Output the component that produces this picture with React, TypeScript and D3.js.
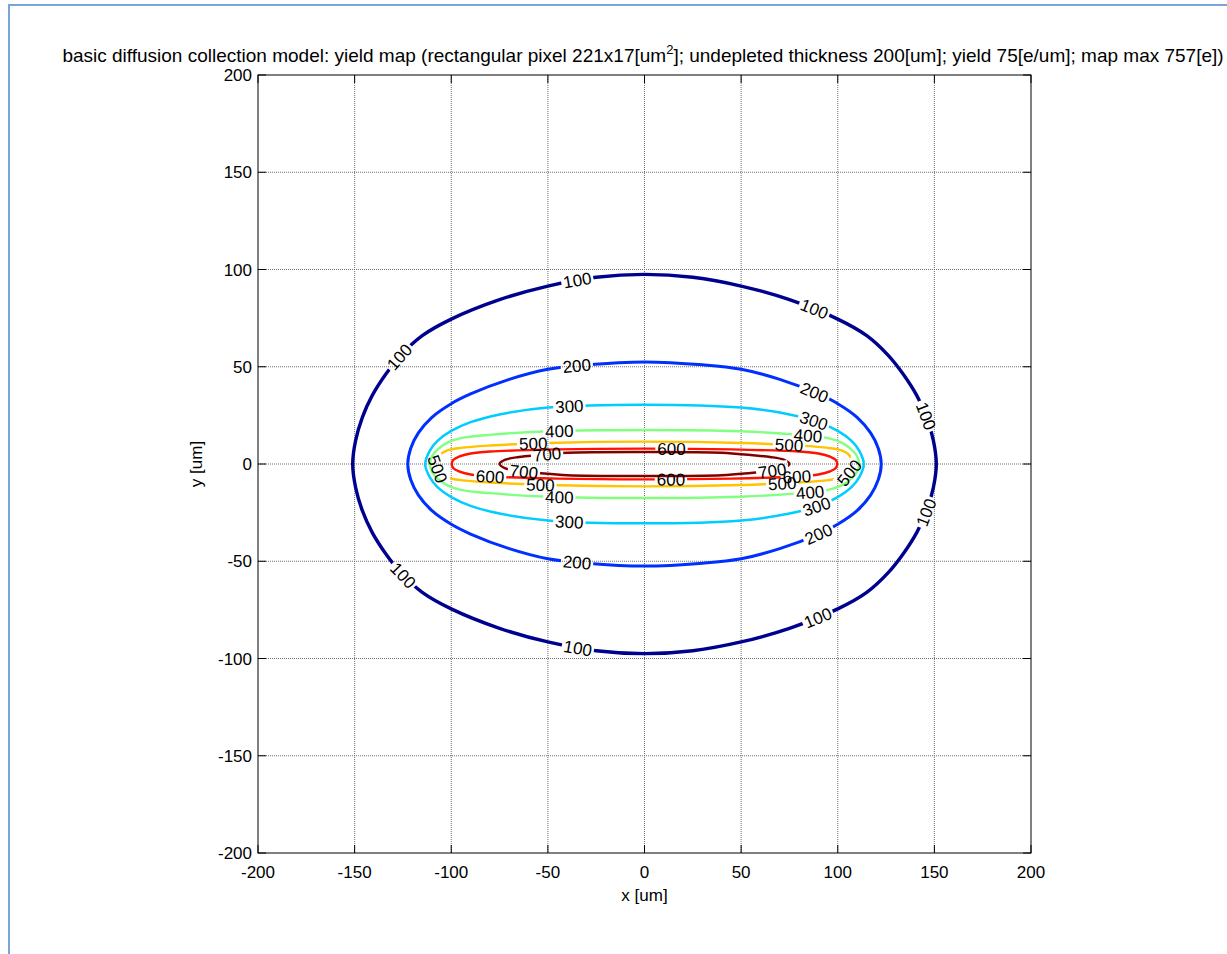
import * as d3 from "d3";
import { useEffect, useRef } from "react";

const W = 1227;
const H = 954;

const titleMain = "basic diffusion collection model: yield map (rectangular pixel 221x17[um";
const titleSup = "2";
const titleEnd = "]; undepleted thickness 200[um]; yield 75[e/um]; map max 757[e])";

const xTicks = [-200, -150, -100, -50, 0, 50, 100, 150, 200];
const yTicks = [-200, -150, -100, -50, 0, 50, 100, 150, 200];

const levels = [100, 200, 300, 400, 500, 600, 700];
const levelColors = ["#00008f", "#0030ff", "#00ccff", "#80ff80", "#ffc400", "#ff1200", "#800000"];
const levelWidths = [3.4, 3, 2.5, 2.4, 2.4, 2.4, 2.4];

// traced contours, upper-right quadrant: from the top (x=0) to the right end (y=0), in um
const c100 = [[0, 97.5], [25, 96], [50, 91.5], [75, 84.5], [100, 74.5], [115, 66], [126, 56], [134, 46], [141, 35], [146, 24], [149.5, 12], [151, 0]];
const c200 = [[0, 52.5], [30, 51], [50, 48.7], [70, 43.5], [90, 36], [100, 31], [110, 24], [117, 16], [121, 8], [122.5, 0]];
const c300 = [[0, 30.5], [50, 29], [75, 25.5], [90, 21.5], [100, 17], [107, 12], [111, 7], [113.5, 0]];
const c400 = [[0, 17.5], [50, 16.8], [80, 15], [95, 13.3], [102, 11], [107, 7.5], [110, 4], [111, 0]];
const c500 = [[0, 11.5], [50, 10.8], [80, 9.5], [95, 8.3], [102, 7], [106, 4.5], [107.5, 0]];
const c600 = [[0, 7.9], [45, 7.5], [80, 6.4], [90, 5.4], [96, 3.8], [99, 2], [99.7, 0]];
const c700 = [[0, 6.2], [40, 5.8], [55, 4.6], [65, 3.6], [72, 2.2], [75, 0]];
const contourQuads = [c100, c200, c300, c400, c500, c600, c700];

// label positions (um)
const lab100 = [[-35, 95.6], [87, 78], [-126, 54.5], [144, 24], [145.5, -25], [-125, -57], [-34.6, -95.6], [89.4, -78.7]];
const lab200 = [[-35, 49.4], [87, 34.4], [-35, -51], [89.4, -34]];
const lab300 = [[-38.8, 29.5], [87, 20], [-38.8, -30.4], [88, -18.5]];
const lab400 = [[-43.9, 16.6], [84.5, 13.9], [-43.9, -17.5], [85.5, -13.4]];
const lab500 = [[-57.6, 9.8], [75, 9.8], [-108, -3], [107, -5], [-54, -11.7], [71.3, -11.7]];
const lab600 = [[13.8, 7.7], [13.8, -8.5], [-80, -7.2], [79, -7.2]];
const lab700 = [[-50.7, 5.6], [-62.6, -4.6], [66.4, -4.6]];
const contourLabels = [lab100, lab200, lab300, lab400, lab500, lab600, lab700];

const font = "'Liberation Sans', Arial, sans-serif";
const fs = 17;

function closeLoop(q: number[][]) {
  return [
    ...q,
    ...q.slice(0, -1).reverse().map(([a, b]) => [a, -b]),
    ...q.slice(1).map(([a, b]) => [-a, -b]),
    ...q.slice(1, -1).reverse().map(([a, b]) => [-a, b]),
  ];
}

export default function App() {
  const ref = useRef<SVGSVGElement>(null);

  useEffect(() => {
    const svg = d3.select(ref.current);
    svg.selectAll("*").remove();

    const m = { left: 258, top: 75, right: 1031, bottom: 853 };
    const x = d3.scaleLinear().domain([-200, 200]).range([m.left, m.right]);
    const y = d3.scaleLinear().domain([-200, 200]).range([m.bottom, m.top]);

    svg.append("rect").attr("width", W).attr("height", H).attr("fill", "#fff");
    // figure frame
    svg.append("rect")
      .attr("x", 9).attr("y", 5).attr("width", 1400).attr("height", 1400)
      .attr("fill", "none").attr("stroke", "#7aa3d6").attr("stroke-width", 2);

    const defs = svg.append("defs");

    // grid
    const grid = svg.append("g")
      .attr("stroke", "#707070").attr("stroke-width", 1).attr("stroke-dasharray", "1,1");
    xTicks.slice(1, -1).forEach(t => {
      grid.append("line").attr("x1", x(t)).attr("x2", x(t)).attr("y1", m.top).attr("y2", m.bottom);
    });
    yTicks.slice(1, -1).forEach(t => {
      grid.append("line").attr("y1", y(t)).attr("y2", y(t)).attr("x1", m.left).attr("x2", m.right);
    });

    const line = d3.line<number[]>()
      .x(d => x(d[0]))
      .y(d => y(d[1]))
      .curve(d3.curveCatmullRomClosed.alpha(0.5));

    const labelG = svg.append("g");

    levels.forEach((lv, i) => {
      const pts = closeLoop(contourQuads[i]);
      const path = svg.append("path")
        .attr("d", line(pts))
        .attr("fill", "none")
        .attr("stroke", levelColors[i])
        .attr("stroke-width", levelWidths[i])
        .attr("stroke-linejoin", "round");
      const node = path.node() as SVGPathElement;
      const len = node.getTotalLength();
      const n = Math.ceil(len);
      const samples: { x: number; y: number; l: number }[] = [];
      for (let k = 0; k <= n; k++) {
        const l = (k / n) * len;
        const p = node.getPointAtLength(l);
        samples.push({ x: p.x, y: p.y, l });
      }
      const mask = defs.append("mask")
        .attr("id", `mask-${lv}`)
        .attr("maskUnits", "userSpaceOnUse")
        .attr("x", 0).attr("y", 0).attr("width", W).attr("height", H);
      mask.append("rect").attr("width", W).attr("height", H).attr("fill", "#fff");

      contourLabels[i].forEach(([lx, ly]) => {
        const px = x(lx), py = y(ly);
        let best = samples[0], bd = Infinity;
        samples.forEach(s => {
          const d = (s.x - px) ** 2 + (s.y - py) ** 2;
          if (d < bd) { bd = d; best = s; }
        });
        const a = node.getPointAtLength((best.l - 4 + len) % len);
        const b = node.getPointAtLength((best.l + 4) % len);
        let ang = (Math.atan2(b.y - a.y, b.x - a.x) * 180) / Math.PI;
        if (ang > 90) ang -= 180;
        if (ang <= -90) ang += 180;
        const tf = `translate(${best.x},${best.y}) rotate(${ang})`;
        const t = labelG.append("text")
          .attr("transform", tf)
          .attr("text-anchor", "middle")
          .attr("dy", "0.36em")
          .attr("font-family", font)
          .attr("font-size", fs)
          .attr("fill", "#000")
          .text(String(lv));
        const w = (t.node() as SVGTextElement).getComputedTextLength();
        mask.append("rect")
          .attr("transform", tf)
          .attr("x", -w / 2 - 2).attr("y", -fs / 2)
          .attr("width", w + 4).attr("height", fs)
          .attr("fill", "#000");
      });
      path.attr("mask", `url(#mask-${lv})`);
    });
    labelG.raise();

    // axes box and ticks
    const ax = svg.append("g").attr("stroke", "#000").attr("stroke-width", 1);
    ax.append("rect")
      .attr("x", m.left).attr("y", m.top)
      .attr("width", m.right - m.left).attr("height", m.bottom - m.top)
      .attr("fill", "none");
    const tl = 8;
    xTicks.forEach(t => {
      ax.append("line").attr("x1", x(t)).attr("x2", x(t)).attr("y1", m.bottom).attr("y2", m.bottom - tl);
      ax.append("line").attr("x1", x(t)).attr("x2", x(t)).attr("y1", m.top).attr("y2", m.top + tl);
    });
    yTicks.forEach(t => {
      ax.append("line").attr("y1", y(t)).attr("y2", y(t)).attr("x1", m.left).attr("x2", m.left + tl);
      ax.append("line").attr("y1", y(t)).attr("y2", y(t)).attr("x1", m.right).attr("x2", m.right - tl);
    });

    const txt = svg.append("g").attr("font-family", font).attr("font-size", fs).attr("fill", "#000");
    xTicks.forEach(t => {
      txt.append("text").attr("x", x(t)).attr("y", 878).attr("text-anchor", "middle").text(String(t));
    });
    yTicks.forEach(t => {
      txt.append("text").attr("x", 252).attr("y", y(t)).attr("dy", "0.36em").attr("text-anchor", "end").text(String(t));
    });
    txt.append("text").attr("x", (m.left + m.right) / 2).attr("y", 901).attr("text-anchor", "middle").text("x [um]");
    txt.append("text")
      .attr("transform", `translate(202,${(m.top + m.bottom) / 2}) rotate(-90)`)
      .attr("text-anchor", "middle").text("y [um]");

    const title = txt.append("text").attr("x", 643).attr("y", 62).attr("text-anchor", "middle").attr("font-size", 19);
    title.append("tspan").text(titleMain);
    title.append("tspan").attr("dy", -8).attr("font-size", 13).text(titleSup);
    title.append("tspan").attr("dy", 8).text(titleEnd);
  }, []);

  return (
    <div style={{ position: "absolute", left: 0, top: 0 }}>
      <svg ref={ref} width={W} height={H} />
    </div>
  );
}
